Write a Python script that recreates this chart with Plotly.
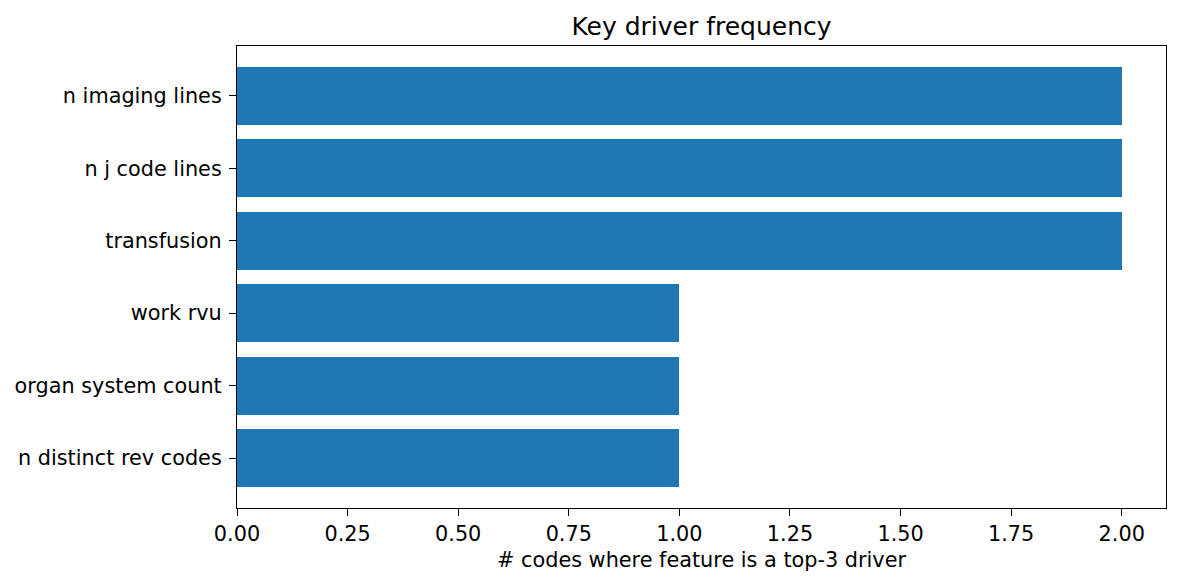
import plotly.graph_objects as go

features = ["n distinct rev codes", "organ system count", "work rvu",
            "transfusion", "n j code lines", "n imaging lines"]
counts = [1, 1, 1, 2, 2, 2]
x_ticks = [0.0, 0.25, 0.5, 0.75, 1.0, 1.25, 1.5, 1.75, 2.0]
x_labels = ["0.00", "0.25", "0.50", "0.75", "1.00", "1.25", "1.50", "1.75", "2.00"]

positions = list(range(len(features)))

# page body has an 8px margin, so the figure is shrunk and shifted to fit
W, H = 1165, 570

fig = go.Figure()
fig.add_trace(go.Bar(
    x=counts, y=positions, orientation="h", width=0.8,
    marker=dict(color="#1f77b4", line=dict(width=0)),
))

axis_style = dict(
    showline=True, linecolor="black", linewidth=1.2, mirror=True,
    ticks="outside", ticklen=7, tickwidth=1.2, tickcolor="black",
    showgrid=False, zeroline=False,
    tickfont=dict(family="DejaVu Sans", size=20.8, color="black"),
)

fig.update_layout(
    width=W, height=H,
    margin=dict(l=229, r=7, t=38, b=70),
    paper_bgcolor="white", plot_bgcolor="white",
    showlegend=False, bargap=0,
    title=dict(text="Key driver frequency", x=(229 + (W - 7)) / 2 / W, xanchor="center",
               y=1 - 18 / H, yanchor="middle",
               font=dict(family="DejaVu Sans", size=25, color="black")),
    xaxis=dict(range=[0, 2.1], tickvals=x_ticks, ticktext=x_labels,
               title=dict(text="# codes where feature is a top-3 driver",
                          font=dict(family="DejaVu Sans", size=20.8, color="black"),
                          standoff=7),
               **axis_style),
    yaxis=dict(range=[-0.69, 5.69], tickvals=positions, ticktext=features,
               ticklabelstandoff=3, **axis_style),
)

fig.write_html("out.html")
